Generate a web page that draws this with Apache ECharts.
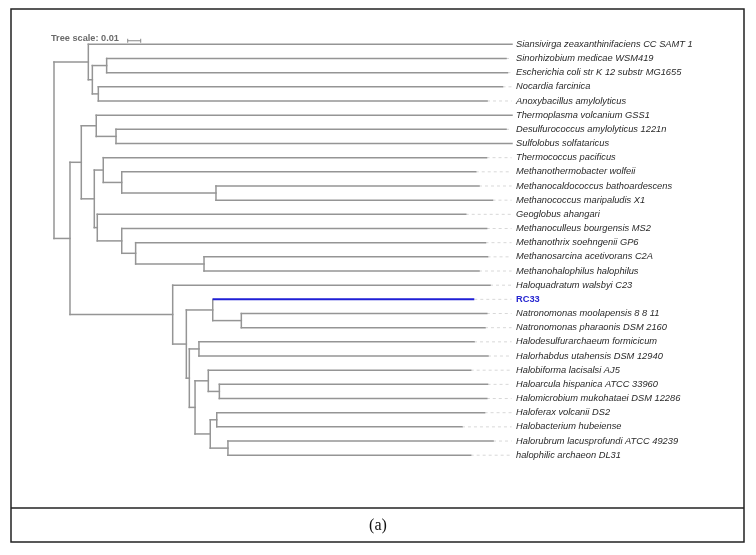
<!DOCTYPE html>
<html><head><meta charset="utf-8">
<script src="https://cdn.jsdelivr.net/npm/echarts@6/dist/echarts.min.js"></script>
<style>html,body{margin:0;padding:0;background:#fff}#c{width:756px;height:555px}</style>
</head><body><div id="c"></div>
<script>
// Leaf names (top to bottom)
const leafNames = [
  "Siansivirga zeaxanthinifaciens CC SAMT 1",
  "Sinorhizobium medicae WSM419",
  "Escherichia coli str K 12 substr MG1655",
  "Nocardia farcinica",
  "Anoxybacillus amylolyticus",
  "Thermoplasma volcanium GSS1",
  "Desulfurococcus amylolyticus 1221n",
  "Sulfolobus solfataricus",
  "Thermococcus pacificus",
  "Methanothermobacter wolfeii",
  "Methanocaldococcus bathoardescens",
  "Methanococcus maripaludis X1",
  "Geoglobus ahangari",
  "Methanoculleus bourgensis MS2",
  "Methanothrix soehngenii GP6",
  "Methanosarcina acetivorans C2A",
  "Methanohalophilus halophilus",
  "Haloquadratum walsbyi C23",
  "RC33",
  "Natronomonas moolapensis 8 8 11",
  "Natronomonas pharaonis DSM 2160",
  "Halodesulfurarchaeum formicicum",
  "Halorhabdus utahensis DSM 12940",
  "Halobiforma lacisalsi AJ5",
  "Haloarcula hispanica ATCC 33960",
  "Halomicrobium mukohataei DSM 12286",
  "Haloferax volcanii DS2",
  "Halobacterium hubeiense",
  "Halorubrum lacusprofundi ATCC 49239",
  "halophilic archaeon DL31"
];
// Distance of each leaf tip from the root (tree units)
const leafDepth = [
  0.3523, 0.3477, 0.3488, 0.3450, 0.3331,
  0.3523, 0.3477, 0.3523, 0.3327, 0.3244,
  0.3269, 0.3373, 0.3167, 0.3328, 0.3319,
  0.3335, 0.3269, 0.3354, 0.3233, 0.3329,
  0.3315, 0.3231, 0.3338, 0.3205, 0.3335,
  0.3329, 0.3312, 0.3138, 0.3377, 0.3205
];
// Internal nodes: distance from root and children
const nodeDepth = [
  0.0000, 0.0264, 0.0295, 0.0405, 0.0341,
  0.0123, 0.0210, 0.0325, 0.0477, 0.0310,
  0.0379, 0.0521, 0.1246, 0.0333, 0.0521,
  0.0628, 0.1154, 0.0913, 0.1018, 0.1221,
  0.1441, 0.1041, 0.1115, 0.1085, 0.1187,
  0.1272, 0.1202, 0.1252, 0.1338
];
const nodeChildren = [
  ["N1","N5"], ["L0","N2"], ["N3","N4"], ["L1","L2"], ["L3","L4"],
  ["N6","N17"], ["N7","N9"], ["L5","N8"], ["L6","L7"], ["N10","N13"],
  ["L8","N11"], ["L9","N12"], ["L10","L11"], ["L12","N14"], ["L13","N15"],
  ["L14","N16"], ["L15","L16"], ["L17","N18"], ["N19","N21"], ["L18","N20"],
  ["L19","L20"], ["N22","N23"], ["L21","L22"], ["N24","N26"], ["L23","N25"],
  ["L24","L25"], ["N27","N28"], ["L26","L27"], ["L28","L29"]
];
const highlightLeaf = "RC33";
const treeScale = 0.01;
const treeScaleLabel = "Tree scale: 0.01";
const captionText = "(a)";

// ---- build geometry from tree structure ----
const labelDepth = 0.3554;
const leaderEnd = 0.3520;
function info(id){
  const k = +id.slice(1);
  if (id[0] === 'L') return {x: leafDepth[k], y: k};
  const ch = nodeChildren[k].map(info);
  return {x: nodeDepth[k], y: (ch[0].y + ch[ch.length-1].y)/2};
}
const segs = [];
nodeChildren.forEach((ch, k) => {
  const px = nodeDepth[k];
  const cs = ch.map(info);
  segs.push([px, cs[0].y, px, cs[cs.length-1].y, 0]);
  ch.forEach((c, i) => {
    const blue = c[0]==='L' && leafNames[+c.slice(1)] === highlightLeaf ? 1 : 0;
    segs.push([px, cs[i].y, cs[i].x, cs[i].y, blue]);
  });
});
const leaders = [];
leafDepth.forEach((d, i) => { if (d < leaderEnd - 0.001) leaders.push([d, i, leaderEnd, i, 2]); });
const labels = leafNames.map((n, i) => [labelDepth, i, n]);
const scaleStart = 0.0567;
const scaleBar = [[scaleStart, -0.25, scaleStart + treeScale, -0.25, 3]];

const chart = echarts.init(document.getElementById('c'), null, {renderer:'canvas'});
const segRender = function(params, api){
  const p1 = api.coord([api.value(0), api.value(1)]);
  const p2 = api.coord([api.value(2), api.value(3)]);
  const kind = api.value(4);
  if (kind === 3) {
    return {type:'group', children:[
      {type:'line', shape:{x1:p1[0],y1:p1[1],x2:p2[0],y2:p2[1]}, style:{stroke:'#888', lineWidth:1}},
      {type:'line', shape:{x1:p1[0],y1:p1[1]-2,x2:p1[0],y2:p1[1]+2}, style:{stroke:'#888', lineWidth:1}},
      {type:'line', shape:{x1:p2[0],y1:p2[1]-2,x2:p2[0],y2:p2[1]+2}, style:{stroke:'#888', lineWidth:1}}
    ]};
  }
  const style = kind === 1 ? {stroke:'#1f1fd6', lineWidth:2} :
                kind === 2 ? {stroke:'#d8d8d8', lineWidth:1, lineDash:[3,3]} :
                {stroke:'#959595', lineWidth:1.5, lineCap:'square'};
  return {type:'line', shape:{x1:p1[0],y1:p1[1],x2:p2[0],y2:p2[1]}, style};
};
chart.setOption({
  animation:false,
  grid:{left:54, right:234, top:30.13, bottom:99.8},
  xAxis:{type:'value', min:0, max:0.36, show:false},
  yAxis:{type:'value', min:-1, max:29, inverse:true, show:false},
  graphic:[
    {type:'rect', shape:{x:11, y:9, width:733, height:533}, style:{fill:'none', stroke:'#222', lineWidth:1.5}},
    {type:'line', shape:{x1:11, y1:508, x2:744, y2:508}, style:{stroke:'#222', lineWidth:1.5}},
    {type:'text', x:378, y:525.5, style:{text:captionText, font:'16px "Liberation Serif"', fill:'#111', align:'center', verticalAlign:'middle'}},
    {type:'text', x:51, y:38.5, style:{text:treeScaleLabel, font:'bold 9.2px "Liberation Sans"', fill:'#6b6b6b', align:'left', verticalAlign:'middle'}}
  ],
  series:[
    {type:'custom', renderItem:segRender, data:leaders, encode:{x:[0,2], y:[1,3]}, silent:true},
    {type:'custom', renderItem:segRender, data:segs, encode:{x:[0,2], y:[1,3]}, silent:true},
    {type:'custom', renderItem:segRender, data:scaleBar, encode:{x:[0,2], y:[1,3]}, silent:true},
    {type:'custom', silent:true, data:labels, encode:{x:0, y:1},
      renderItem:function(params, api){
        const p = api.coord([api.value(0), api.value(1)]);
        const name = labels[params.dataIndex][2];
        const hl = name === highlightLeaf;
        return {type:'text', x:p[0], y:p[1], style:{text:name,
          font: hl ? 'bold 9.3px "Liberation Sans"' : 'italic 9.3px "Liberation Sans"',
          fill: hl ? '#2525d0' : '#2a2a2a', align:'left', verticalAlign:'middle'}};
      }}
  ]
});
</script></body></html>
